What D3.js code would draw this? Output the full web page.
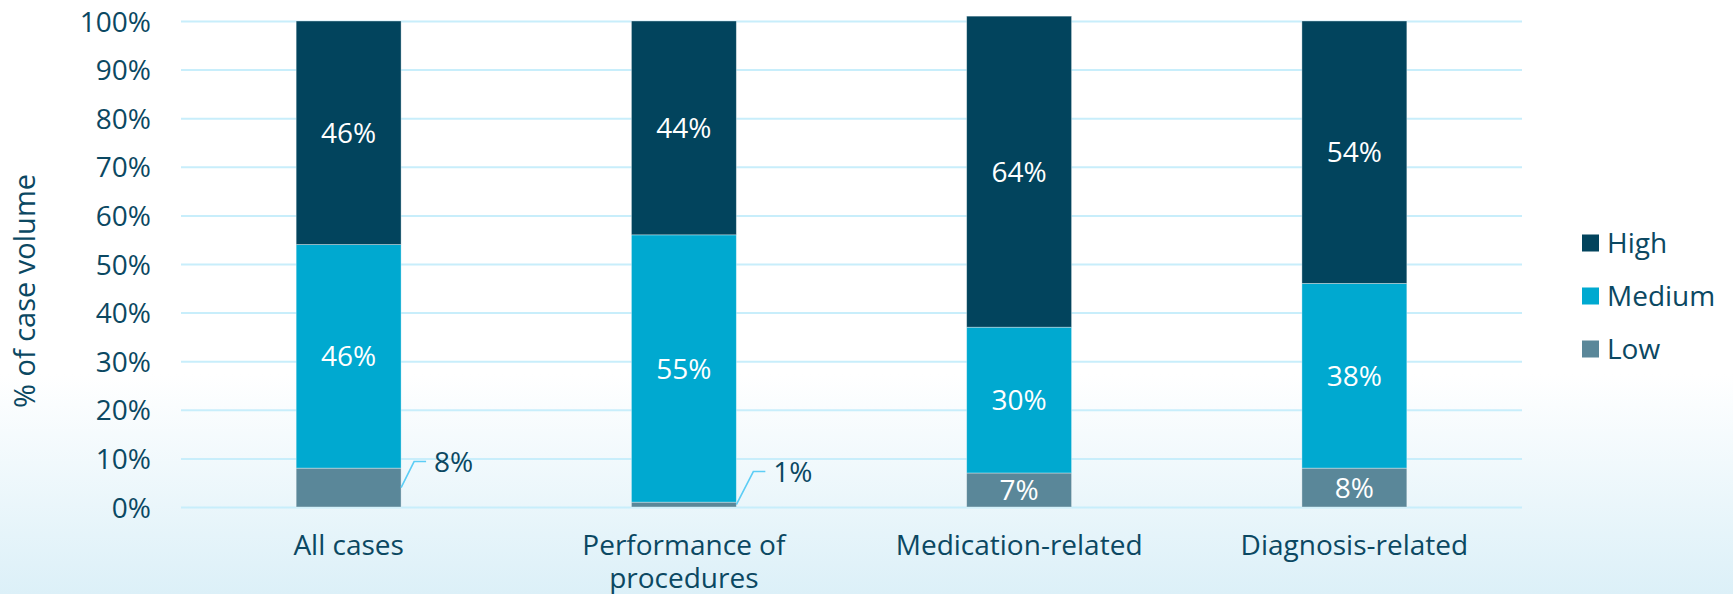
<!DOCTYPE html>
<html>
<head>
<meta charset="utf-8">
<script src="https://cdn.jsdelivr.net/npm/d3@7"></script>
<style>
  html, body { margin: 0; padding: 0; background: #fff; }
  svg { display: block; }
  text { font-family: "Open Sans", "Noto Sans", sans-serif; }
</style>
</head>
<body>
<svg id="chart" width="1733" height="594"></svg>
<script>
// Case volume share by severity level, per case type
const categories = ["All cases", "Performance of procedures", "Medication-related", "Diagnosis-related"];
const categoryLines = [["All cases"], ["Performance of", "procedures"], ["Medication-related"], ["Diagnosis-related"]];
const low    = [8, 1, 7, 8];
const medium = [46, 55, 30, 38];
const high   = [46, 44, 64, 54];
const seriesNames = ["Low", "Medium", "High"];
const yTicks = [0, 10, 20, 30, 40, 50, 60, 70, 80, 90, 100];

const W = 1733, H = 594;
const margin = { left: 181, right: W - 1522, top: 21, bottom: H - 507 };
const colors = { Low: "#5a8799", Medium: "#00a9d0", High: "#02445d" };
const textColor = "#0b4862";
const gridColor = "#c8eefb";

const svg = d3.select("#chart");

// soft blue wash towards the bottom
const defs = svg.append("defs");
const grad = defs.append("linearGradient").attr("id", "bg").attr("x1", 0).attr("y1", 0).attr("x2", 0).attr("y2", 1);
grad.append("stop").attr("offset", "0").attr("stop-color", "#ffffff");
grad.append("stop").attr("offset", "0.63").attr("stop-color", "#ffffff");
grad.append("stop").attr("offset", "1").attr("stop-color", "#dcf0f8");
svg.append("rect").attr("width", W).attr("height", H).attr("fill", "url(#bg)");

const x = d3.scaleBand()
  .domain(categories)
  .range([margin.left, W - margin.right])
  .paddingInner(0.687)
  .paddingOuter(0.3435);

const y = d3.scaleLinear().domain([0, 100]).range([H - margin.bottom, margin.top]);

// gridlines + y tick labels
const yAxis = d3.axisLeft(y)
  .tickValues(yTicks)
  .tickFormat(d => d + "%")
  .tickSize(-(W - margin.left - margin.right))
  .tickPadding(30);

const gy = svg.append("g").attr("transform", `translate(${margin.left},0)`).call(yAxis);
gy.select(".domain").remove();
gy.selectAll(".tick line").attr("stroke", gridColor).attr("stroke-width", 2);
gy.selectAll(".tick text")
  .attr("fill", textColor)
  .attr("font-size", 28)
  .attr("dy", "0.36em");

// y axis title
svg.append("text")
  .attr("transform", `translate(35,291) rotate(-90)`)
  .attr("text-anchor", "middle")
  .attr("fill", textColor)
  .attr("font-size", 29)
  .text("% of case volume");

// stacked bars
const rows = categories.map((c, i) => ({ category: c, Low: low[i], Medium: medium[i], High: high[i] }));
const stack = d3.stack().keys(seriesNames);
const stacked = stack(rows);

const layers = svg.append("g").selectAll("g")
  .data(stacked)
  .join("g")
  .attr("fill", d => colors[d.key]);

layers.selectAll("rect")
  .data(d => d)
  .join("rect")
  .attr("x", d => x(d.data.category))
  .attr("width", x.bandwidth())
  .attr("y", d => y(d[1]))
  .attr("height", d => y(d[0]) - y(d[1]))
  .attr("stroke", "rgba(255,255,255,0.45)")
  .attr("stroke-width", 0.8);

// value labels; small Low values on the first two bars sit outside with a leader line
const callouts = [{ dx: 13, dy: -26 }, { dx: 17, dy: -33 }, null, null];
const labels = svg.append("g").attr("font-size", 28);

stacked.forEach(layer => {
  layer.forEach((d, i) => {
    const v = d[1] - d[0];
    const cx = x(d.data.category) + x.bandwidth() / 2;
    const cy = (y(d[0]) + y(d[1])) / 2;
    const co = layer.key === "Low" ? callouts[i] : null;
    if (co) {
      const x0 = x(d.data.category) + x.bandwidth();
      const ex = x0 + co.dx, ey = cy + co.dy;
      labels.append("path")
        .attr("d", `M${x0},${cy}L${ex},${ey}L${ex + 12},${ey}`)
        .attr("fill", "none")
        .attr("stroke", "#5ccdf5")
        .attr("stroke-width", 1.6);
      labels.append("text")
        .attr("x", ex + 20)
        .attr("y", ey)
        .attr("dy", "0.36em")
        .attr("fill", textColor)
        .text(v + "%");
    } else {
      labels.append("text")
        .attr("x", cx)
        .attr("y", cy)
        .attr("dy", "0.36em")
        .attr("text-anchor", "middle")
        .attr("fill", "#ffffff")
        .text(v + "%");
    }
  });
});

// category labels
const xl = svg.append("g").attr("font-size", 28).attr("fill", textColor).attr("text-anchor", "middle");
categories.forEach((c, i) => {
  const t = xl.append("text")
    .attr("x", x(c) + x.bandwidth() / 2)
    .attr("y", 555);
  categoryLines[i].forEach((line, j) => {
    t.append("tspan")
      .attr("x", x(c) + x.bandwidth() / 2)
      .attr("dy", j === 0 ? 0 : 33)
      .text(line);
  });
});

// legend
const legendKeys = ["High", "Medium", "Low"];
const lg = svg.append("g").attr("transform", "translate(1582,243)");
legendKeys.forEach((k, i) => {
  const g = lg.append("g").attr("transform", `translate(0,${i * 53})`);
  g.append("rect").attr("x", 0).attr("y", -8.5).attr("width", 17).attr("height", 17).attr("fill", colors[k]);
  g.append("text")
    .attr("x", 25)
    .attr("y", 0)
    .attr("dy", "0.36em")
    .attr("font-size", 28)
    .attr("fill", textColor)
    .text(k);
});
</script>
</body>
</html>
